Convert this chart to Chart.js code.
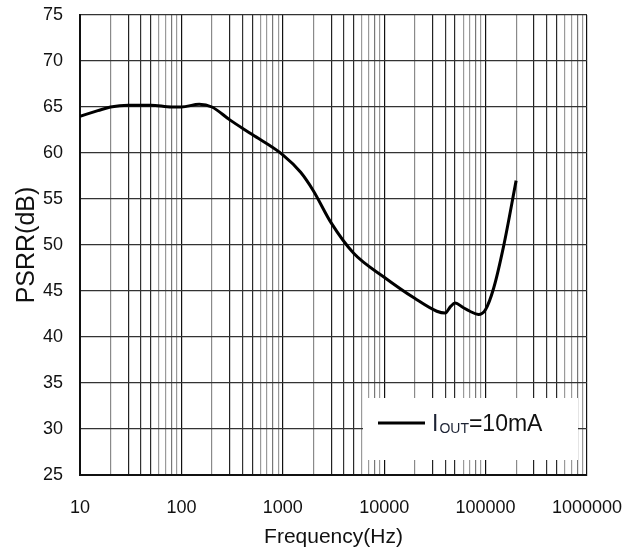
<!DOCTYPE html>
<html>
<head>
<meta charset="utf-8">
<script src="https://cdn.jsdelivr.net/npm/chart.js@4"></script>
<style>
  html, body { margin: 0; padding: 0; background: #fff; }
  #wrap { width: 639px; height: 554px; }
</style>
</head>
<body>
<div id="wrap"><canvas id="psrrChart" width="639" height="554"></canvas></div>
<script>
// PSRR vs frequency, IOUT = 10mA
const freqHz = [10, 15, 20, 30, 50, 80, 100, 150, 200, 300, 500, 1000, 1500, 2000, 3000, 5000,
                10000, 20000, 33000, 40000, 45000, 50000, 60000, 70000, 85000, 100000, 120000, 150000, 200000];
const psrrDb = [64.0, 64.6, 65.0, 65.2, 65.2, 65.0, 65.0, 65.3, 65.0, 63.6, 62.0, 59.8, 57.9, 55.9, 52.4, 49.1,
                46.5, 44.2, 42.8, 42.6, 43.3, 43.7, 43.2, 42.8, 42.45, 43.0, 45.3, 49.8, 57.0];
const seriesLabel = 'IOUT=10mA';

// grid: 1..9 in every decade, labels only on the decades
const decades = [10, 100, 1000, 10000, 100000];
const steps = [1, 2, 3, 4, 5, 6, 7, 8, 9];
const yTicks = [25, 30, 35, 40, 45, 50, 55, 60, 65, 70, 75];

const gridValues = [];
decades.forEach(d => steps.forEach(s => gridValues.push(d * s)));
gridValues.push(1000000);

// darker / lighter vertical lines like the scanned original
const stepColor = { 1: '#111', 2: '#8a8a8a', 3: '#222', 4: '#333', 5: '#2a2a2a', 6: '#9a9a9a', 7: '#9a9a9a', 8: '#777', 9: '#999' };

const legendBox = {
    id: 'legendBox',
    beforeDatasetsDraw(chart) {
        const { ctx, chartArea: a } = chart;
        const x0 = a.right - 224, y0 = a.bottom - 77;
        ctx.save();
        ctx.fillStyle = '#fff';
        ctx.fillRect(x0, y0, 215, 62);

        ctx.strokeStyle = '#000';
        ctx.lineWidth = 3;
        ctx.beginPath();
        ctx.moveTo(a.right - 209, a.bottom - 52);
        ctx.lineTo(a.right - 162, a.bottom - 52);
        ctx.stroke();

        // "I" + subscript "OUT" + "=10mA"
        let tx = a.right - 155;
        const base = a.bottom - 44;
        ctx.textBaseline = 'alphabetic';
        ctx.fillStyle = '#1c2233';
        ctx.font = '23px "Liberation Sans", Arial, sans-serif';
        ctx.fillText(seriesLabel.slice(0, 1), tx, base);
        tx += ctx.measureText(seriesLabel.slice(0, 1)).width + 1;
        ctx.font = '14px "Liberation Sans", Arial, sans-serif';
        ctx.fillText(seriesLabel.slice(1, 4), tx, base + 2);
        tx += ctx.measureText(seriesLabel.slice(1, 4)).width;
        ctx.fillStyle = '#111';
        ctx.font = '23px "Liberation Sans", Arial, sans-serif';
        ctx.fillText(seriesLabel.slice(4), tx, base);
        ctx.restore();
    }
};

const ctx = document.getElementById('psrrChart').getContext('2d');
new Chart(ctx, {
    type: 'line',
    data: {
        datasets: [{
            label: seriesLabel,
            data: freqHz.map((f, i) => ({ x: f, y: psrrDb[i] })),
            borderColor: '#000',
            borderWidth: 3,
            pointRadius: 0,
            fill: false,
            cubicInterpolationMode: 'monotone'
        }]
    },
    options: {
        responsive: false,
        animation: false,
        layout: { padding: { top: 15, right: 52, left: 0, bottom: 0 } },
        plugins: {
            legend: { display: false },
            tooltip: { enabled: false }
        },
        scales: {
            x: {
                type: 'logarithmic',
                min: 10,
                max: 1000000,
                afterBuildTicks: scale => { scale.ticks = gridValues.map(v => ({ value: v })); },
                afterFit: scale => {
                    scale.height = 79;
                    scale.paddingLeft = 0;
                    scale.paddingRight = 0;
                },
                border: { color: '#111', width: 2 },
                grid: {
                    drawTicks: false,
                    lineWidth: 1.2,
                    color: c => {
                        const v = c.tick ? c.tick.value : 10;
                        const s = Math.round(v / Math.pow(10, Math.floor(Math.log10(v) + 1e-9)));
                        return stepColor[s] || '#111';
                    }
                },
                ticks: {
                    autoSkip: false,
                    maxRotation: 0,
                    padding: 22,
                    color: '#111',
                    font: { family: '"Liberation Sans", Arial, sans-serif', size: 18 },
                    callback: v => decades.concat([1000000]).includes(v) ? String(v) : ''
                },
                title: {
                    display: true,
                    text: 'Frequency(Hz)',
                    color: '#111',
                    padding: { top: 4, bottom: 4 },
                    font: { family: '"Liberation Sans", Arial, sans-serif', size: 21 }
                }
            },
            y: {
                min: 25,
                max: 75,
                afterBuildTicks: scale => { scale.ticks = yTicks.map(v => ({ value: v })); },
                afterFit: scale => {
                    scale.width = 80;
                    scale.paddingTop = 0;
                    scale.paddingBottom = 0;
                },
                border: { color: '#111', width: 2 },
                grid: { drawTicks: false, color: '#333', lineWidth: 1.3 },
                ticks: {
                    padding: 17,
                    color: '#111',
                    font: { family: '"Liberation Sans", Arial, sans-serif', size: 18 }
                },
                title: {
                    display: true,
                    text: 'PSRR(dB)',
                    color: '#111',
                    padding: { top: 12, bottom: 0 },
                    font: { family: '"Liberation Sans", Arial, sans-serif', size: 25 }
                }
            }
        }
    },
    plugins: [legendBox]
});
</script>
</body>
</html>
